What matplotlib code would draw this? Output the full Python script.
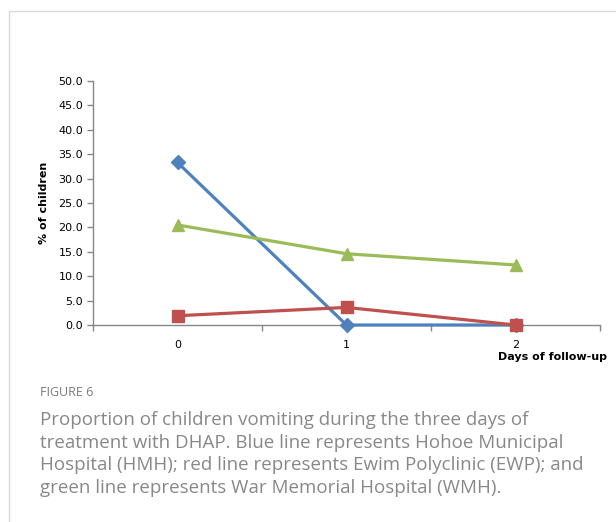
import matplotlib.pyplot as plt
from matplotlib.patches import Rectangle
import numpy as np

days = [0, 1, 2]
hmh = [33.3, 0.0, 0.0]
ewp = [1.9, 3.6, 0.0]
wmh = [20.5, 14.6, 12.3]

fig = plt.figure(figsize=(6.16, 5.22), dpi=100)

# card border
fig.patches.append(Rectangle((9 / 616, -0.1), 1.2, 1 - 11 / 522 + 0.1,
                             transform=fig.transFigure, fill=False,
                             edgecolor="#d9d9d9", linewidth=1.0))

ax = fig.add_axes([93 / 616, 1 - 325 / 522, 507 / 616, 244 / 522])
x = np.arange(len(days))
ax.plot(x, hmh, color="#4F81BD", linewidth=2.3, marker="D", markersize=7, zorder=3)
ax.plot(x, ewp, color="#C0504D", linewidth=2.3, marker="s", markersize=8, zorder=4)
ax.plot(x, wmh, color="#9BBB59", linewidth=2.3, marker="^", markersize=9, zorder=3)

ax.set_xlim(-0.5, 2.5)
ax.set_ylim(0, 50)
ax.set_yticks(np.arange(0, 50.1, 5))
ax.set_yticklabels([f"{v:.1f}" for v in np.arange(0, 50.1, 5)], fontsize=8)
ax.set_xticks(x)
ax.set_xticklabels([str(d) for d in days], fontsize=8)
ax.set_xticks([-0.5, 0.5, 1.5, 2.5], minor=True)
ax.tick_params(axis="x", which="major", length=0, pad=11)
ax.tick_params(axis="x", which="minor", length=4, color="#868686", width=1)
ax.tick_params(axis="y", length=4, color="#868686", width=1, pad=3)
for s in ["top", "right"]:
    ax.spines[s].set_visible(False)
for s in ["left", "bottom"]:
    ax.spines[s].set_color("#868686")
    ax.spines[s].set_linewidth(1)
for line in ax.lines:
    line.set_clip_on(False)

fig.text(44 / 616, 1 - 203 / 522, "% of children", rotation=90, fontsize=8,
         fontweight="bold", ha="center", va="center")
fig.text(607 / 616, 1 - 357 / 522, "Days of follow-up", fontsize=8,
         fontweight="bold", ha="right", va="center")

fig.text(40 / 616, 1 - 392 / 522, "FIGURE 6", fontsize=9, color="#7a7a7a",
         family="Open Sans", va="center")
caption = ["Proportion of children vomiting during the three days of",
           "treatment with DHAP. Blue line represents Hohoe Municipal",
           "Hospital (HMH); red line represents Ewim Polyclinic (EWP); and",
           "green line represents War Memorial Hospital (WMH)."]
for i, txt in enumerate(caption):
    fig.text(40 / 616, 1 - (420 + 22.7 * i) / 522, txt, fontsize=13.5,
             color="#888888", family="Open Sans", va="center")

fig.savefig("out.png", dpi=100)
